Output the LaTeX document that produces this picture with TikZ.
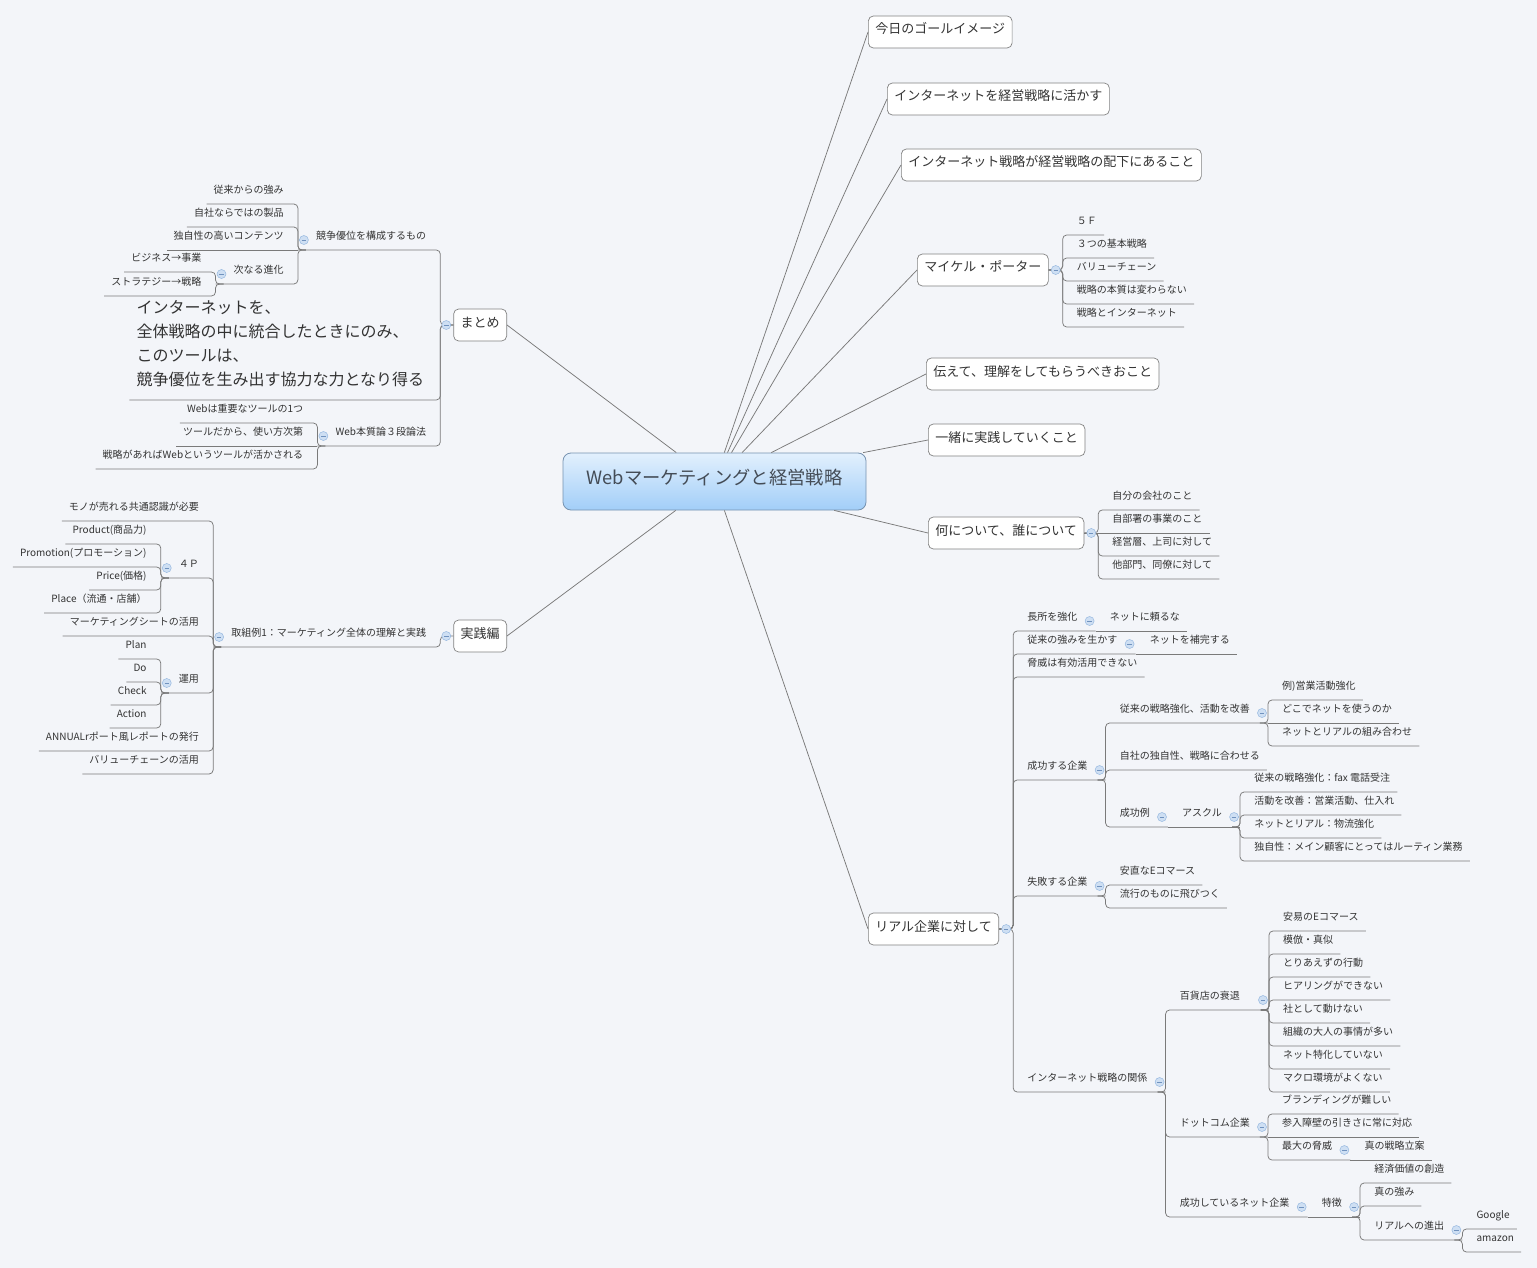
\documentclass[tikz,border=0pt]{standalone}
\usepackage{fontspec}
\setmainfont{Noto Sans CJK JP}

\definecolor{paper}{RGB}{243,245,249}
\definecolor{ink}{RGB}{51,51,51}
\definecolor{wire}{RGB}{122,122,122}
\definecolor{frame}{RGB}{130,130,130}
\definecolor{rootTop}{RGB}{226,240,253}
\definecolor{rootBot}{RGB}{162,206,248}
\definecolor{rootFrame}{RGB}{118,146,176}
\definecolor{rootInk}{RGB}{68,76,86}
\definecolor{knobFill}{RGB}{206,223,243}
\definecolor{knobLine}{RGB}{150,184,224}
\definecolor{knobBar}{RGB}{112,146,190}

\tikzset{
  root/.style={draw=rootFrame, line width=0.8pt, top color=rootTop, bottom color=rootBot,
    rounded corners=8pt, minimum width=303pt, minimum height=57pt, text=rootInk,
    font=\fontsize{18.3}{22}\selectfont, text height=12pt, text depth=7pt},
  topic/.style={draw=frame, line width=0.7pt, fill=white, rounded corners=5pt,
    minimum height=32pt, inner xsep=7pt, text=ink, font=\fontsize{13}{15}\selectfont,
    text height=9pt, text depth=5pt},
  note/.style={text=ink, font=\fontsize{10}{12}\selectfont, inner xsep=7pt,
    inner ysep=8pt, text height=8pt, text depth=2pt},
  leaf/.style={note, anchor=south west, xshift=7pt},
  lleaf/.style={note, anchor=south east, xshift=-7pt},
  rhub/.style={leaf, execute at end node=\kern11pt},
  lhub/.style={lleaf, execute at begin node=\kern11pt},
  quote/.style={text=ink, font=\fontsize{16}{24}\selectfont, align=left, anchor=south east,
    xshift=-9pt, inner xsep=7pt, inner ysep=11pt, text depth=3pt},
  spoke/.style={draw=wire, line width=0.75pt},
  link/.style={draw=wire, line width=0.75pt, rounded corners=4pt},
  knob/.style={fill=knobFill, draw=knobLine, line width=0.5pt},
  knobbar/.style={draw=knobBar, line width=0.6pt},
}

\newcommand{\knob}[1]{%
  \filldraw[knob] #1 circle (4.5pt);
  \draw[knobbar] #1 ++(-2.2,0) -- ++(4.4,0);}

\begin{document}
\begin{tikzpicture}[x=1pt, y=-1pt]
\fill[paper] (0,0) rectangle (1537,1268);
\useasboundingbox (0,0) rectangle (1537,1268);

\node[root] (root) at (714.5,481.5) {Webマーケティングと経営戦略};

\node[topic, anchor=west] (goal) at (868,32) {今日のゴールイメージ};
\node[topic, anchor=west] (use) at (887,99) {インターネットを経営戦略に活かす};
\node[topic, anchor=west] (sub) at (901,165) {インターネット戦略が経営戦略の配下にあること};
\node[topic, anchor=west] (porter) at (917,270) {マイケル・ポーター};
\node[topic, anchor=west] (tell) at (926,374) {伝えて、理解をしてもらうべきおこと};
\node[topic, anchor=west] (together) at (928,440) {一緒に実践していくこと};
\node[topic, anchor=west] (what) at (928,533) {何について、誰について};
\node[topic, anchor=west] (real) at (868,929) {リアル企業に対して};
\node[topic, anchor=east] (matome) at (507,325) {まとめ};
\node[topic, anchor=east] (jissen) at (507,636) {実践編};

\foreach \t in {goal,use,sub,porter,tell,together,what,real}
  \draw[spoke] (root) -- (\t.west);
\foreach \t in {matome,jissen}
  \draw[spoke] (root) -- (\t.east);

% マイケル・ポーター
\coordinate (porterX) at ([xshift=14pt]porter.east);
\node[leaf] (p5f) at (porterX |- 0,235) {５Ｆ};
\node[leaf] (p3) at (porterX |- 0,258) {３つの基本戦略};
\node[leaf] (pvc) at (porterX |- 0,281) {バリューチェーン};
\node[leaf] (pess) at (porterX |- 0,304) {戦略の本質は変わらない};
\node[leaf] (pnet) at (porterX |- 0,327) {戦略とインターネット};
\foreach \c in {p5f,p3,pvc,pess,pnet}
  \draw[link] (porter.east) -- (porterX) |- (\c.south east);

% 何について
\coordinate (whatX) at ([xshift=14pt]what.east);
\node[leaf] (w1) at (whatX |- 0,510) {自分の会社のこと};
\node[leaf] (w2) at (whatX |- 0,533) {自部署の事業のこと};
\node[leaf] (w3) at (whatX |- 0,556) {経営層、上司に対して};
\node[leaf] (w4) at (whatX |- 0,579) {他部門、同僚に対して};
\foreach \c in {w1,w3,w4}
  \draw[link] (what.east) -- (whatX) |- (\c.south east);
\draw[link] (what.east) -- (w2.south east);

% リアル企業に対して
\coordinate (realX) at ([xshift=14pt]real.east);
\node[rhub] (chousho) at (realX |- 0,631) {長所を強化};
\node[leaf] (tayoru) at (chousho.south east |- 0,631) {ネットに頼るな};
\node[rhub] (tsuyomi) at (realX |- 0,654) {従来の強みを生かす};
\node[leaf] (hokan) at (tsuyomi.south east |- 0,654) {ネットを補完する};
\node[leaf] (kyoi) at (realX |- 0,677) {脅威は有効活用できない};
\node[rhub] (seiko) at (realX |- 0,780) {成功する企業};
\node[rhub] (kyoka) at (seiko.south east |- 0,723) {従来の戦略強化、活動を改善};
\node[leaf] (rei) at (kyoka.south east |- 0,700) {例)営業活動強化};
\node[leaf] (dokode) at (kyoka.south east |- 0,723) {どこでネットを使うのか};
\node[leaf] (kumiawase) at (kyoka.south east |- 0,746) {ネットとリアルの組み合わせ};
\node[leaf] (dokuji) at (seiko.south east |- 0,770) {自社の独自性、戦略に合わせる};
\node[rhub] (seikorei) at (seiko.south east |- 0,827) {成功例};
\node[rhub] (askul) at (seikorei.south east |- 0,827) {アスクル};
\node[leaf] (fax) at (askul.south east |- 0,792) {従来の戦略強化：fax\ 電話受注};
\node[leaf] (shiire) at (askul.south east |- 0,815) {活動を改善：営業活動、仕入れ};
\node[leaf] (butsuryu) at (askul.south east |- 0,838) {ネットとリアル：物流強化};
\node[leaf] (routine) at (askul.south east |- 0,861) {独自性：メイン顧客にとってはルーティン業務};
\node[rhub] (shippai) at (realX |- 0,896) {失敗する企業};
\node[leaf] (anchoku) at (shippai.south east |- 0,885) {安直なEコマース};
\node[leaf] (ryuko) at (shippai.south east |- 0,908) {流行のものに飛びつく};
\node[rhub] (kankei) at (realX |- 0,1092) {インターネット戦略の関係};
\node[rhub, execute at end node=\kern11pt] (hyakka) at (kankei.south east |- 0,1010) {百貨店の衰退};
\foreach \t [count=\i, evaluate=\i as \y using 908+23*\i] in
  {安易のEコマース,模倣・真似,とりあえずの行動,ヒアリングができない,
   社として動けない,組織の大人の事情が多い,ネット特化していない,マクロ環境がよくない}
  {\node[leaf] (h\i) at (hyakka.south east |- 0,\y) {\t};}
\node[rhub] (dotcom) at (kankei.south east |- 0,1137) {ドットコム企業};
\node[leaf] (brand) at (dotcom.south east |- 0,1114) {ブランディングが難しい};
\node[leaf] (sannyu) at (dotcom.south east |- 0,1137) {参入障壁の引きさに常に対応};
\node[rhub] (saidai) at (dotcom.south east |- 0,1160) {最大の脅威};
\node[leaf] (ritsuan) at (saidai.south east |- 0,1160) {真の戦略立案};
\node[rhub] (netkigyo) at (kankei.south east |- 0,1217) {成功しているネット企業};
\node[rhub] (tokucho) at (netkigyo.south east |- 0,1217) {特徴};
\node[leaf] (keizai) at (tokucho.south east |- 0,1183) {経済価値の創造};
\node[leaf] (shin) at (tokucho.south east |- 0,1206) {真の強み};
\node[rhub] (shinshutsu) at (tokucho.south east |- 0,1240) {リアルへの進出};
\node[leaf] (google) at (shinshutsu.south east |- 0,1229) {Google};
\node[leaf] (amazon) at (shinshutsu.south east |- 0,1252) {amazon};

\foreach \c in {chousho,tsuyomi,kyoi,seiko,shippai,kankei}
  \draw[link] (real.east) -- (realX) |- (\c.south east);
\foreach \p/\c in {chousho/tayoru,tsuyomi/hokan,kyoka/dokode,seikorei/askul,
    dotcom/sannyu,saidai/ritsuan,netkigyo/tokucho}
  \draw[link] (\p.south east) -- (\c.south east);
\foreach \p/\c in {seiko/kyoka,seiko/dokuji,seiko/seikorei,kyoka/rei,kyoka/kumiawase,
    askul/fax,askul/shiire,askul/butsuryu,askul/routine,shippai/anchoku,shippai/ryuko,
    kankei/hyakka,kankei/dotcom,kankei/netkigyo,hyakka/h1,hyakka/h2,hyakka/h3,hyakka/h4,
    hyakka/h5,hyakka/h6,hyakka/h7,hyakka/h8,dotcom/brand,dotcom/saidai,tokucho/keizai,
    tokucho/shin,tokucho/shinshutsu,shinshutsu/google,shinshutsu/amazon}
  \draw[link] ([xshift=-8pt]\p.south east) -- (\p.south east) |- (\c.south east);

% まとめ
\coordinate (matomeX) at ([xshift=-13pt]matome.west);
\node[lhub] (kyoso) at (matomeX |- 0,250) {競争優位を構成するもの};
\node[lleaf] (jurai) at (kyoso.south west |- 0,204) {従来からの強み};
\node[lleaf] (jisha) at (kyoso.south west |- 0,227) {自社ならではの製品};
\node[lleaf] (content) at (kyoso.south west |- 0,250) {独自性の高いコンテンツ};
\node[lhub] (shinka) at (kyoso.south west |- 0,284) {次なる進化};
\node[lleaf] (biz) at (shinka.south west |- 0,272) {ビジネス→事業};
\node[lleaf] (strat) at (shinka.south west |- 0,296) {ストラテジー→戦略};
\node[quote] (quote) at (matomeX |- 0,400) {インターネットを、\\全体戦略の中に統合したときにのみ、\\このツールは、\\競争優位を生み出す協力な力となり得る};
\node[lhub] (honshitsu) at (matomeX |- 0,446) {Web本質論３段論法};
\node[lleaf] (tool1) at (honshitsu.south west |- 0,423) {Webは重要なツールの1つ};
\node[lleaf] (tool2) at (honshitsu.south west |- 0,446) {ツールだから、使い方次第};
\node[lleaf] (tool3) at (honshitsu.south west |- 0,469) {戦略があればWebというツールが活かされる};

% 実践編
\coordinate (jissenX) at ([xshift=-13pt]jissen.west);
\node[lhub] (torikumi) at (jissenX |- 0,647) {取組例1：マーケティング全体の理解と実践};
\node[lleaf] (mono) at (torikumi.south west |- 0,521) {モノが売れる共通認識が必要};
\node[lhub] (fourp) at (torikumi.south west |- 0,578) {４Ｐ};
\node[lleaf] (product) at (fourp.south west |- 0,544) {Product(商品力)};
\node[lleaf] (promo) at (fourp.south west |- 0,567) {Promotion(プロモーション)};
\node[lleaf] (price) at (fourp.south west |- 0,590) {Price(価格)};
\node[lleaf] (place) at (fourp.south west |- 0,613) {Place（流通・店舗）};
\node[lleaf] (sheet) at (torikumi.south west |- 0,636) {マーケティングシートの活用};
\node[lhub] (unyo) at (torikumi.south west |- 0,693) {運用};
\node[lleaf] (plan) at (unyo.south west |- 0,659) {Plan};
\node[lleaf] (do) at (unyo.south west |- 0,682) {Do};
\node[lleaf] (check) at (unyo.south west |- 0,705) {Check};
\node[lleaf] (action) at (unyo.south west |- 0,728) {Action};
\node[lleaf] (annual) at (torikumi.south west |- 0,751) {ANNUALrポート風レポートの発行};
\node[lleaf] (vchain) at (torikumi.south west |- 0,774) {バリューチェーンの活用};

\foreach \c in {kyoso,quote,honshitsu}
  \draw[link] (matome.west) -- (matomeX) |- (\c.south west);
\draw[link] (jissen.west) -- (jissenX) |- (torikumi.south west);
\foreach \p/\c in {kyoso/content,honshitsu/tool2}
  \draw[link] (\p.south west) -- (\c.south west);
\foreach \p/\c in {kyoso/jurai,kyoso/jisha,kyoso/shinka,shinka/biz,shinka/strat,
    honshitsu/tool1,honshitsu/tool3,torikumi/mono,torikumi/fourp,torikumi/sheet,
    torikumi/unyo,torikumi/annual,torikumi/vchain,fourp/product,fourp/promo,fourp/price,
    fourp/place,unyo/plan,unyo/do,unyo/check,unyo/action}
  \draw[link] ([xshift=8pt]\p.south west) -- (\p.south west) |- (\c.south west);

% collapse knobs
\foreach \n in {porter,what,real}
  {\knob{([xshift=7pt]\n.east)}}
\foreach \n in {matome,jissen}
  {\knob{([xshift=-7pt]\n.west)}}
\foreach \n in {chousho,tsuyomi,seiko,kyoka,seikorei,askul,shippai,kankei,hyakka,
    dotcom,saidai,netkigyo,tokucho,shinshutsu}
  {\knob{([shift={(-6,-10)}]\n.south east)}}
\foreach \n in {kyoso,shinka,honshitsu,torikumi,fourp,unyo}
  {\knob{([shift={(6,-10)}]\n.south west)}}
\end{tikzpicture}
\end{document}
